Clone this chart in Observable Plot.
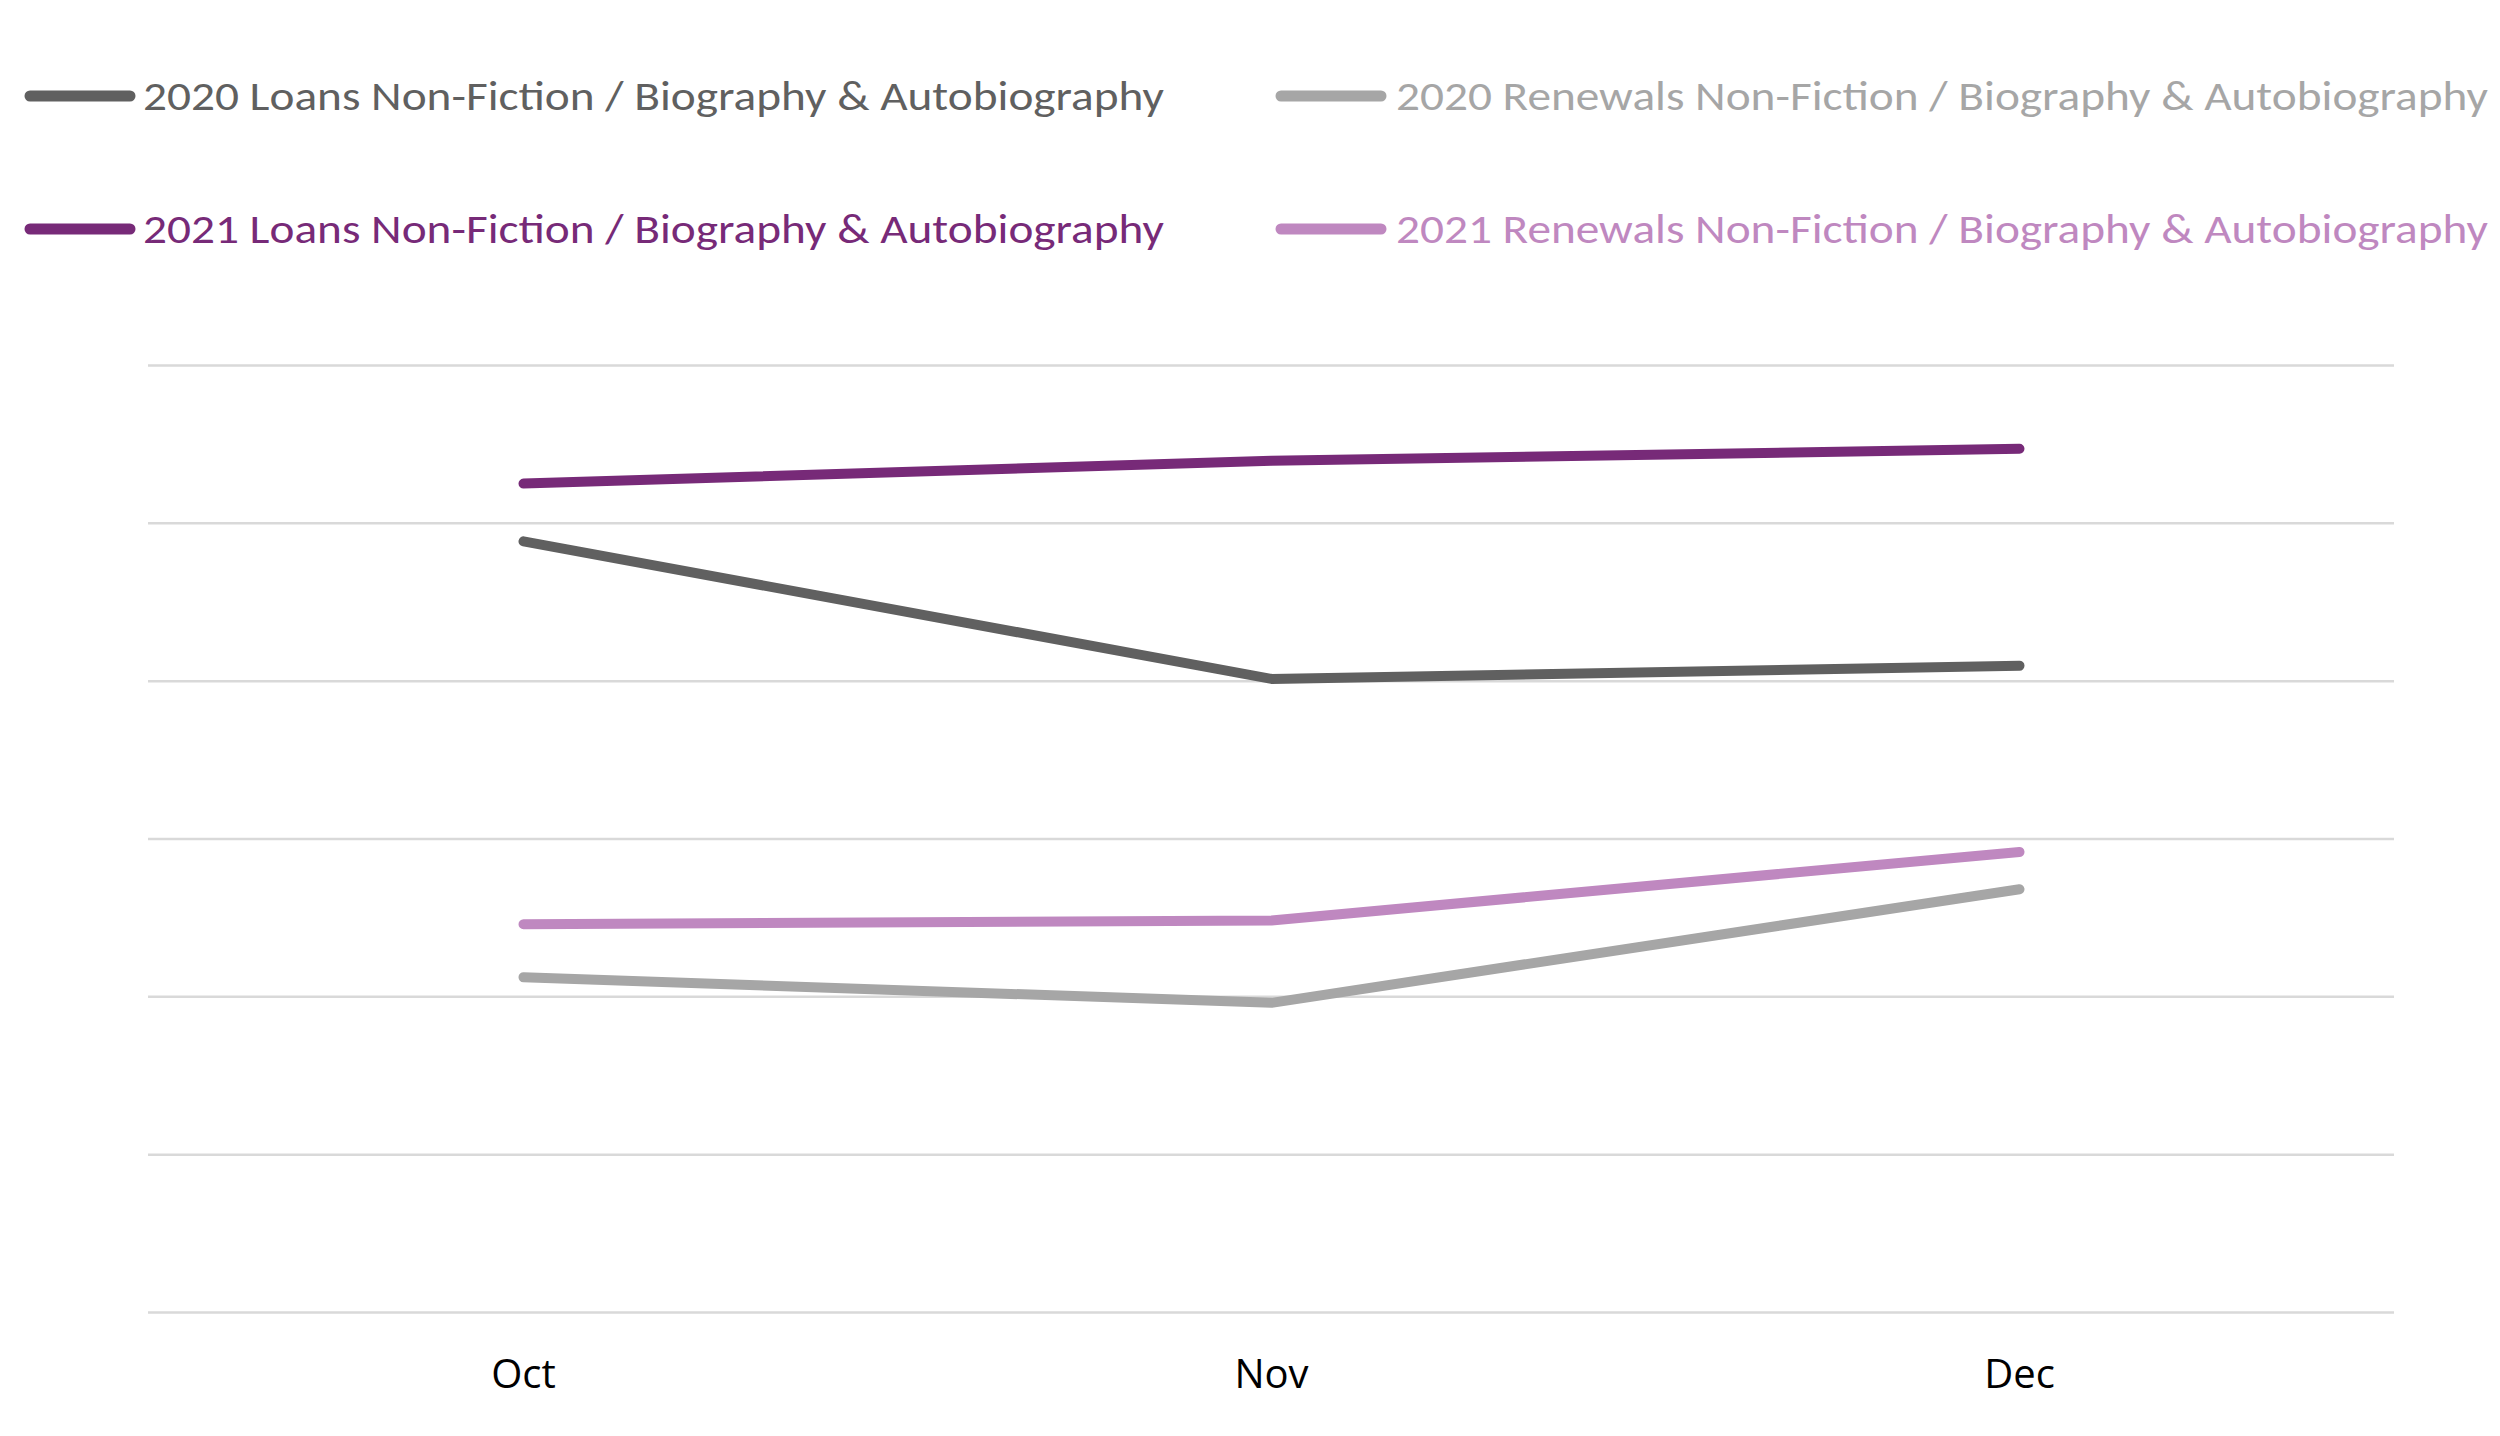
<!DOCTYPE html>
<html>
<head>
<meta charset="utf-8">
<script src="https://cdn.jsdelivr.net/npm/d3@7"></script>
<script src="https://cdn.jsdelivr.net/npm/@observablehq/plot@0.6"></script>
<style>
  html, body { margin: 0; padding: 0; background: #fff; }
  #wrap { width: 2500px; height: 1436px; position: relative; overflow: hidden; }
  #legend { display: block; }
  #chart svg { display: block; }
</style>
</head>
<body>
<div id="wrap">
  <svg id="legend" width="2500" height="300"></svg>
  <div id="chart"></div>
</div>
<script>
// ---- data ----
const months = ["Oct", "Nov", "Dec"];
const seriesNames = [
  "2020 Loans Non-Fiction / Biography & Autobiography",
  "2020 Renewals Non-Fiction / Biography & Autobiography",
  "2021 Loans Non-Fiction / Biography & Autobiography",
  "2021 Renewals Non-Fiction / Biography & Autobiography"
];
const seriesColors = ["#606060", "#a6a6a6", "#772a78", "#bf88c0"];
const loans2020 = [2443, 2007, 2049];
const renewals2020 = [1062, 981, 1341];
const loans2021 = [2626, 2698, 2736];
const renewals2021 = [1230, 1242, 1459];
const gridTicks = [0, 500, 1000, 1500, 2000, 2500, 3000];

const seriesValues = [loans2020, renewals2020, loans2021, renewals2021];
const rows = [];
seriesNames.forEach((name, i) => {
  months.forEach((m, j) => rows.push({series: name, month: m, value: seriesValues[i][j]}));
});

// ---- legend (HTML-side SVG above the chart) ----
const legend = d3.select("#legend");
const legendOrder = [0, 1, 2, 3];
const legendPos = [
  {sx: 30, tx: 143, y: 96, len: 1021},
  {sx: 1281, tx: 1396, y: 96, len: 1092},
  {sx: 30, tx: 143, y: 229, len: 1021},
  {sx: 1281, tx: 1396, y: 229, len: 1092}
];
legendOrder.forEach((i, k) => {
  const p = legendPos[k];
  legend.append("line")
    .attr("x1", p.sx).attr("x2", p.sx + 100)
    .attr("y1", p.y).attr("y2", p.y)
    .attr("stroke", seriesColors[i]).attr("stroke-width", 11)
    .attr("stroke-linecap", "round");
  legend.append("text")
    .attr("x", p.tx).attr("y", p.y + 14)
    .attr("fill", seriesColors[i])
    .attr("font-family", "Carlito, Lato, 'Open Sans', sans-serif")
    .attr("font-size", 42)
    .attr("textLength", p.len)
    .attr("lengthAdjust", "spacingAndGlyphs")
    .text(seriesNames[i]);
});

// ---- chart ----
const chart = Plot.plot({
  width: 2500,
  height: 1136,
  marginTop: 65,
  marginBottom: 124,
  marginLeft: 148,
  marginRight: 106,
  style: {fontFamily: "'Open Sans', sans-serif", background: "#fff"},
  x: {type: "point", domain: months, padding: 0.5, label: null},
  y: {domain: [0, 3000], axis: null},
  color: {domain: seriesNames, range: seriesColors},
  marks: [
    Plot.ruleY(gridTicks, {stroke: "#d9d9d9", strokeWidth: 2.5}),
    Plot.axisX({tickSize: 0, tickPadding: 47, fontSize: 40, color: "#000", label: null}),
    Plot.line(rows, {
      x: "month", y: "value", z: "series", stroke: "series",
      strokeWidth: 10, strokeLinecap: "round", strokeLinejoin: "round"
    })
  ]
});
document.getElementById("chart").appendChild(chart);
</script>
</body>
</html>
